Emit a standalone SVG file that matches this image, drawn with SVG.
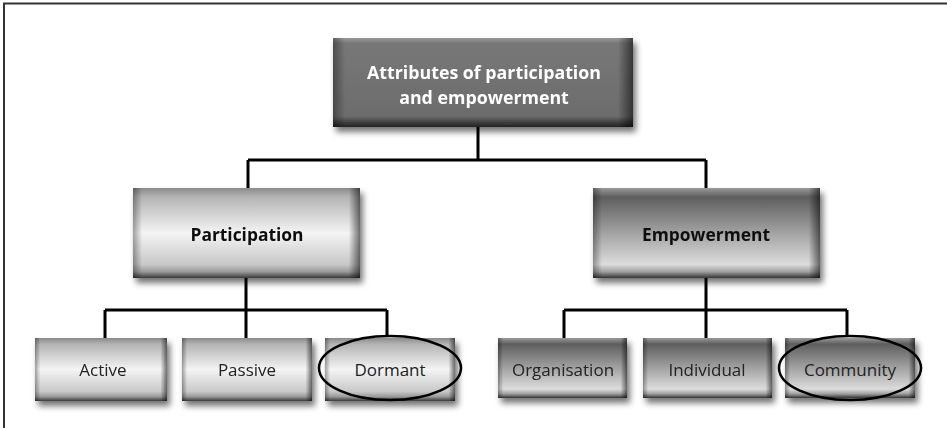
<svg xmlns="http://www.w3.org/2000/svg" width="947" height="428" viewBox="0 0 947 428">
  <defs>
    <linearGradient id="gSilver" x1="0" y1="0" x2="0" y2="1">
      <stop offset="0" stop-color="#8a8a8a"/>
      <stop offset="0.1" stop-color="#b4b4b4"/>
      <stop offset="0.5" stop-color="#f4f4f4"/>
      <stop offset="0.85" stop-color="#c8c8c8"/>
      <stop offset="0.93" stop-color="#9a9a9a"/>
      <stop offset="1" stop-color="#3a3a3a"/>
    </linearGradient>
    <linearGradient id="gDarkTop" x1="0" y1="0" x2="0" y2="1">
      <stop offset="0" stop-color="#9a9a9a"/>
      <stop offset="0.1" stop-color="#5e5e5e"/>
      <stop offset="0.45" stop-color="#9a9a9a"/>
      <stop offset="0.85" stop-color="#dcdcdc"/>
      <stop offset="0.93" stop-color="#a0a0a0"/>
      <stop offset="1" stop-color="#333333"/>
    </linearGradient>
    <linearGradient id="gTop" x1="0" y1="0" x2="0" y2="1">
      <stop offset="0" stop-color="#9a9a9a"/>
      <stop offset="0.06" stop-color="#777777"/>
      <stop offset="0.88" stop-color="#6c6c6c"/>
      <stop offset="0.95" stop-color="#3e3e3e"/>
      <stop offset="1" stop-color="#222222"/>
    </linearGradient>
    <linearGradient id="gSides" x1="0" y1="0" x2="1" y2="0">
      <stop offset="0" stop-color="#000" stop-opacity="0.35"/>
      <stop offset="0.04" stop-color="#000" stop-opacity="0"/>
      <stop offset="0.95" stop-color="#000" stop-opacity="0"/>
      <stop offset="1" stop-color="#000" stop-opacity="0.55"/>
    </linearGradient>
    <filter id="shadow" x="-10%" y="-10%" width="130%" height="140%">
      <feGaussianBlur in="SourceAlpha" stdDeviation="3"/>
      <feOffset dx="3" dy="5" result="b"/>
      <feComponentTransfer><feFuncA type="linear" slope="0.55"/></feComponentTransfer>
      <feMerge><feMergeNode/><feMergeNode in="SourceGraphic"/></feMerge>
    </filter>
  </defs>
  <style>
    .frame { stroke: #333; stroke-width: 2; fill: none; }
    .conn { stroke: #000; stroke-width: 3; fill: none; }
    .oval { stroke: #000; stroke-width: 2.5; fill: none; }
    .t { font-family: "Open Sans", "Liberation Sans", sans-serif; text-anchor: middle; }
    .tb { font-weight: bold; font-size: 17.4px; fill: #111; }
    .tr { font-size: 17px; fill: #222; }
    .tw { font-weight: bold; font-size: 17.8px; fill: #fff; }
    .sides { fill: url(#gSides); }
  </style>

  <path class="frame" d="M4,428 V3.5 H947"/>

  <g id="connectors">
    <path class="conn" d="M478,127 V160 M248,160 H706 M248,160 V188 M706,160 V188"/>
    <path class="conn" d="M246,278 V338 M105,310 H387 M105,310 V338 M387,310 V336"/>
    <path class="conn" d="M706,278 V338 M564,310 H847 M564,310 V338 M847,310 V336"/>
  </g>

  <g id="node-root" filter="url(#shadow)">
    <rect x="333" y="38" width="300" height="89" fill="url(#gTop)"/>
    <rect x="333" y="38" width="300" height="89" class="sides"/>
    <text class="t tw" x="484" y="79">Attributes of participation</text>
    <text class="t tw" x="484" y="104">and empowerment</text>
  </g>

  <g id="node-participation" filter="url(#shadow)">
    <rect x="133" y="188" width="227" height="90" fill="url(#gSilver)"/>
    <rect x="133" y="188" width="227" height="90" class="sides"/>
    <text class="t tb" x="247" y="241">Participation</text>
  </g>

  <g id="node-empowerment" filter="url(#shadow)">
    <rect x="593" y="188" width="227" height="90" fill="url(#gDarkTop)"/>
    <rect x="593" y="188" width="227" height="90" class="sides"/>
    <text class="t tb" x="706" y="241">Empowerment</text>
  </g>

  <g id="node-active" filter="url(#shadow)">
    <rect x="35" y="338" width="132" height="63" fill="url(#gSilver)"/>
    <rect x="35" y="338" width="132" height="63" class="sides"/>
    <text class="t tr" x="103" y="376">Active</text>
  </g>

  <g id="node-passive" filter="url(#shadow)">
    <rect x="182" y="338" width="130" height="63" fill="url(#gSilver)"/>
    <rect x="182" y="338" width="130" height="63" class="sides"/>
    <text class="t tr" x="247" y="376">Passive</text>
  </g>

  <g id="node-dormant">
    <g filter="url(#shadow)">
      <rect x="325" y="338" width="130" height="63" fill="url(#gSilver)"/>
      <rect x="325" y="338" width="130" height="63" class="sides"/>
    </g>
    <text class="t tr" x="390" y="376">Dormant</text>
    <ellipse class="oval" cx="390" cy="368" rx="71" ry="32"/>
  </g>

  <g id="node-organisation" filter="url(#shadow)">
    <rect x="498" y="338" width="129" height="60" fill="url(#gDarkTop)"/>
    <rect x="498" y="338" width="129" height="60" class="sides"/>
    <text class="t tr" x="563" y="376">Organisation</text>
  </g>

  <g id="node-individual" filter="url(#shadow)">
    <rect x="643" y="338" width="129" height="60" fill="url(#gDarkTop)"/>
    <rect x="643" y="338" width="129" height="60" class="sides"/>
    <text class="t tr" x="707" y="376">Individual</text>
  </g>

  <g id="node-community">
    <g filter="url(#shadow)">
      <rect x="785" y="338" width="130" height="60" fill="url(#gDarkTop)"/>
      <rect x="785" y="338" width="130" height="60" class="sides"/>
    </g>
    <text class="t tr" x="850" y="376">Community</text>
    <ellipse class="oval" cx="850" cy="368" rx="71" ry="32"/>
  </g>
</svg>
